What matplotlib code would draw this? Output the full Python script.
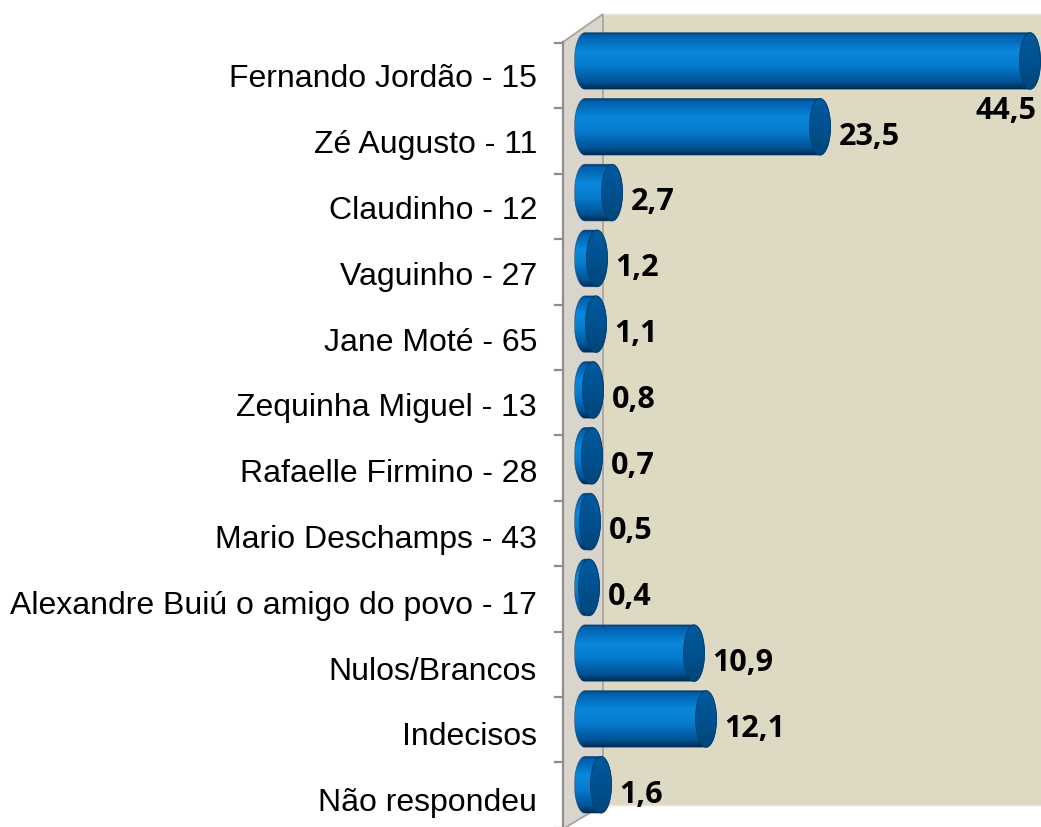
import numpy as np
import matplotlib
matplotlib.use('Agg')
from matplotlib import pyplot as plt
from matplotlib.patches import Ellipse, Polygon, Rectangle, PathPatch
from matplotlib.path import Path
from matplotlib.colors import LinearSegmentedColormap

names = ['Fernando Jordão - 15', 'Zé Augusto - 11', 'Claudinho - 12', 'Vaguinho - 27',
         'Jane Moté - 65', 'Zequinha Miguel - 13', 'Rafaelle Firmino - 28',
         'Mario Deschamps - 43', 'Alexandre Buiú o amigo do povo - 17',
         'Nulos/Brancos', 'Indecisos', 'Não respondeu']
values = [44.5, 23.5, 2.7, 1.2, 1.1, 0.8, 0.7, 0.5, 0.4, 10.9, 12.1, 1.6]

fig = plt.figure(figsize=(10.41, 8.27), dpi=100)
ax = fig.add_axes([0, 0, 1, 1])

# pixel -> data helpers for the decoration (walls, ticks)
def px(x):
    return (x - 585) / 10.0

def py(y):
    return (y - 61) / 65.8

# walls
ax.add_patch(Rectangle((px(603), py(14)), px(1045) - px(603), py(805) - py(14),
                       facecolor='#DDD9C3', edgecolor='#E8E5D8', lw=1, zorder=0))
ax.add_patch(Polygon([(px(563), py(42)), (px(603), py(14)), (px(603), py(805)), (px(563), py(829))],
                     closed=True, facecolor='#D9D4CC', edgecolor='#A3A09A', lw=1.2, zorder=0))
ax.plot([px(563), px(563)], [py(42), py(830)], color='#8E8E8E', lw=1.6, zorder=1)
for k in range(13):
    yy = py(43 + k * 65.4)
    ax.plot([px(555), px(563)], [yy, yy], color='#8E8E8E', lw=1.6, zorder=1)

body_cmap = LinearSegmentedColormap.from_list('body', [
    (0.0, '#003563'), (0.05, '#005EAA'), (0.35, '#0A88DE'),
    (0.6, '#067ACC'), (0.87, '#005496'), (1.0, '#002D55')])
cap_cmap = LinearSegmentedColormap.from_list('cap', [
    (0.0, '#005A9E'), (0.5, '#00518F'), (1.0, '#00467A')])
grad = np.linspace(0, 1, 200).reshape(-1, 1)

a = 1.05     # half width of the end ellipse (data units)
b = 0.43     # half height of the cylinder

for i, v in enumerate(values):
    t1 = np.linspace(-np.pi / 2, np.pi / 2, 60)
    t2 = np.linspace(np.pi / 2, 3 * np.pi / 2, 60)
    xs = np.concatenate([v + a * np.cos(t1), a * np.cos(t2)])
    ys = np.concatenate([i + b * np.sin(t1), i + b * np.sin(t2)])
    verts = np.column_stack([xs, ys])
    path = Path(np.vstack([verts, verts[:1]]), closed=True)
    sil = PathPatch(path, facecolor='none', edgecolor='#003A6A', lw=0.6, alpha=0.6, zorder=3)
    ax.add_patch(sil)
    im = ax.imshow(grad, cmap=body_cmap, aspect='auto', origin='upper',
                   extent=(-a, v + a, i + b, i - b), zorder=2, interpolation='bilinear')
    im.set_clip_path(sil)
    cap = Ellipse((v, i), 2 * a, 2 * b, facecolor='none', edgecolor='#003E70', lw=0.6, zorder=5)
    ax.add_patch(cap)
    im2 = ax.imshow(grad, cmap=cap_cmap, aspect='auto', origin='upper',
                    extent=(v - a, v + a, i + b, i - b), zorder=4, interpolation='bilinear')
    im2.set_clip_path(cap)

    lab = f'{v:.1f}'.replace('.', ',')
    if v > 40:
        ax.text(px(1037), py(111), lab, ha='right', va='center', fontsize=22,
                fontweight='bold', family='Open Sans', color='black', zorder=6)
    else:
        ax.text(v + a + 0.8, i + 0.15, lab, ha='left', va='center', fontsize=22,
                fontweight='bold', family='Open Sans', color='black', zorder=6)

    ax.text(px(537), i + 0.28, names[i], ha='right', va='center', fontsize=23,
            family='Liberation Sans', color='black')

ax.set_xlim(-58.5, 45.6)
ax.set_ylim(py(827), py(0))
ax.axis('off')

fig.savefig('out.png', dpi=100)
